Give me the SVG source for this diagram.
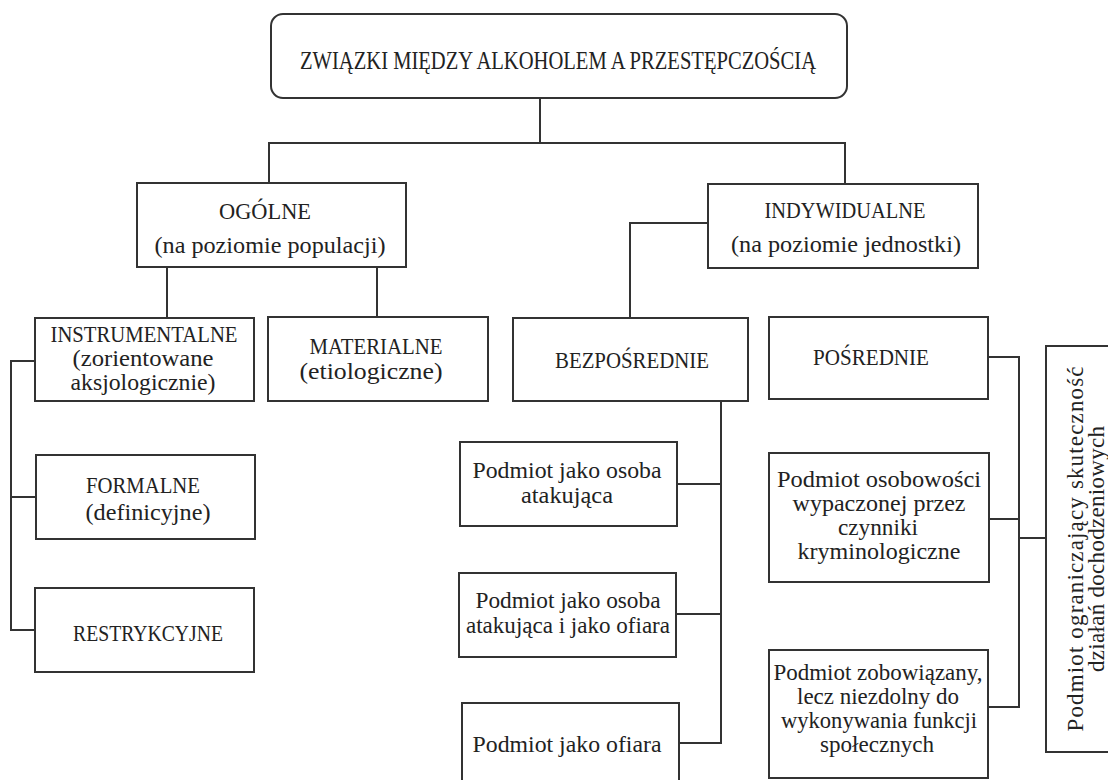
<svg xmlns="http://www.w3.org/2000/svg" width="1108" height="780" viewBox="0 0 1108 780">
<style>
.box{fill:#fff;stroke:#333;stroke-width:2}
.c{fill:none;stroke:#333;stroke-width:2}
.t{font-family:"Liberation Serif","Times New Roman",serif;font-size:23px;fill:#222;text-anchor:middle}
.h{font-size:25px}
</style>
<rect width="1108" height="780" fill="#fff"/>
<g id="connectors">
<path class="c" d="M540,98 V143"/>
<path class="c" d="M269,183 V143 H845 V184"/>
<path class="c" d="M708,223 H630 V318"/>
<path class="c" d="M167,267 V318"/>
<path class="c" d="M377,267 V317"/>
<path class="c" d="M35,361 H11 V630 H35 M11,497 H36"/>
<path class="c" d="M721,401 V743 H679 M677,484 H721 M676,614 H721"/>
<path class="c" d="M988,357 H1019 V707 H988 M989,519 H1019 M1019,538 H1046"/>
</g>
<g id="root">
<rect class="box" x="271" y="14" width="576" height="84" rx="12"/>
<text class="t h" x="558" y="69" textLength="516" lengthAdjust="spacingAndGlyphs">ZWIĄZKI MIĘDZY ALKOHOLEM A PRZESTĘPCZOŚCIĄ</text>
</g>
<g id="ogolne">
<rect class="box" x="137" y="183" width="269" height="84"/>
<text class="t" x="265" y="219" textLength="92" lengthAdjust="spacingAndGlyphs">OGÓLNE</text>
<text class="t" x="270" y="253" textLength="231" lengthAdjust="spacingAndGlyphs">(na poziomie populacji)</text>
</g>
<g id="indywidualne">
<rect class="box" x="708" y="184" width="270" height="84"/>
<text class="t" x="845" y="218" textLength="161" lengthAdjust="spacingAndGlyphs">INDYWIDUALNE</text>
<text class="t" x="846" y="252" textLength="230" lengthAdjust="spacingAndGlyphs">(na poziomie jednostki)</text>
</g>
<g id="instrumentalne">
<rect class="box" x="35" y="318" width="219" height="83"/>
<text class="t" x="144" y="342" textLength="187" lengthAdjust="spacingAndGlyphs">INSTRUMENTALNE</text>
<text class="t" x="143" y="366" textLength="141" lengthAdjust="spacingAndGlyphs">(zorientowane</text>
<text class="t" x="143" y="390" textLength="145" lengthAdjust="spacingAndGlyphs">aksjologicznie)</text>
</g>
<g id="materialne">
<rect class="box" x="268" y="317" width="220" height="84"/>
<text class="t" x="376" y="354" textLength="133" lengthAdjust="spacingAndGlyphs">MATERIALNE</text>
<text class="t" x="371" y="379" textLength="143" lengthAdjust="spacingAndGlyphs">(etiologiczne)</text>
</g>
<g id="bezposrednie">
<rect class="box" x="513" y="318" width="235" height="83"/>
<text class="t" x="632" y="368" textLength="154" lengthAdjust="spacingAndGlyphs">BEZPOŚREDNIE</text>
</g>
<g id="posrednie">
<rect class="box" x="769" y="317" width="219" height="82"/>
<text class="t" x="871" y="365" textLength="116" lengthAdjust="spacingAndGlyphs">POŚREDNIE</text>
</g>
<g id="formalne">
<rect class="box" x="36" y="455" width="219" height="84"/>
<text class="t" x="143" y="493" textLength="114" lengthAdjust="spacingAndGlyphs">FORMALNE</text>
<text class="t" x="148" y="520" textLength="125" lengthAdjust="spacingAndGlyphs">(definicyjne)</text>
</g>
<g id="restrykcyjne">
<rect class="box" x="35" y="588" width="219" height="84"/>
<text class="t" x="148" y="641" textLength="150" lengthAdjust="spacingAndGlyphs">RESTRYKCYJNE</text>
</g>
<g id="atakujaca">
<rect class="box" x="460" y="442" width="217" height="84"/>
<text class="t" x="567" y="478" textLength="189" lengthAdjust="spacingAndGlyphs">Podmiot jako osoba</text>
<text class="t" x="567" y="503" textLength="92" lengthAdjust="spacingAndGlyphs">atakująca</text>
</g>
<g id="atakujaca-ofiara">
<rect class="box" x="459" y="573" width="217" height="84"/>
<text class="t" x="568" y="608" textLength="185" lengthAdjust="spacingAndGlyphs">Podmiot jako osoba</text>
<text class="t" x="568" y="633" textLength="204" lengthAdjust="spacingAndGlyphs">atakująca i jako ofiara</text>
</g>
<g id="ofiara">
<rect class="box" x="462" y="703" width="217" height="100"/>
<text class="t" x="567" y="752" textLength="189" lengthAdjust="spacingAndGlyphs">Podmiot jako ofiara</text>
</g>
<g id="osobowosc">
<rect class="box" x="769" y="453" width="220" height="129"/>
<text class="t" x="879" y="487" textLength="204" lengthAdjust="spacingAndGlyphs">Podmiot osobowości</text>
<text class="t" x="879" y="511" textLength="173" lengthAdjust="spacingAndGlyphs">wypaczonej przez</text>
<text class="t" x="878" y="535" textLength="80" lengthAdjust="spacingAndGlyphs">czynniki</text>
<text class="t" x="879" y="559" textLength="163" lengthAdjust="spacingAndGlyphs">kryminologiczne</text>
</g>
<g id="zobowiazany">
<rect class="box" x="769" y="650" width="219" height="128"/>
<text class="t" x="878" y="680" textLength="209" lengthAdjust="spacingAndGlyphs">Podmiot zobowiązany,</text>
<text class="t" x="878" y="704" textLength="162" lengthAdjust="spacingAndGlyphs">lecz niezdolny do</text>
<text class="t" x="879" y="728" textLength="196" lengthAdjust="spacingAndGlyphs">wykonywania funkcji</text>
<text class="t" x="877" y="752" textLength="114" lengthAdjust="spacingAndGlyphs">społecznych</text>
</g>
<g id="ograniczajacy">
<rect class="box" x="1046" y="346" width="80" height="406"/>
<text class="t" transform="translate(1083,549) rotate(-90)" x="0" y="0" textLength="365" lengthAdjust="spacing">Podmiot ograniczający skuteczność</text>
<text class="t" transform="translate(1104,549) rotate(-90)" x="0" y="0" textLength="246" lengthAdjust="spacing">działań dochodzeniowych</text>
</g>
</svg>
